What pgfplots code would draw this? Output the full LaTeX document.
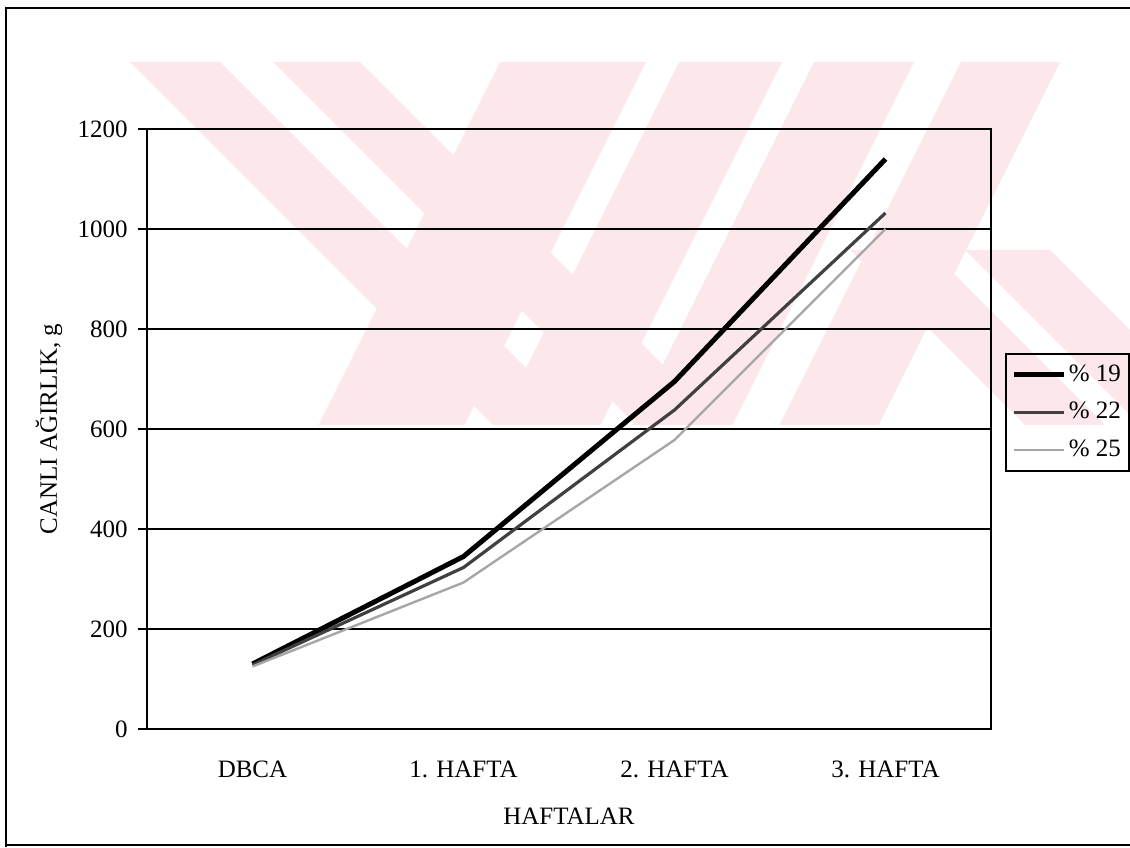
\documentclass[border=0pt]{standalone}
\usepackage{fontspec}
\setmainfont{Liberation Serif}
\usepackage{pgfplots}
\usepackage{pgfplotstable}
\pgfplotsset{compat=1.18}

\definecolor{wm}{RGB}{252,231,235}

% live weight (g) per week for the three protein levels
\pgfplotstableread{
x  p19   p22   p25
0  130   128   125
1  345   323   293
2  695   638   578
3  1140  1032  1000
}\weights

\begin{document}
\fontsize{12.5}{15}\selectfont
\begin{tikzpicture}
\useasboundingbox (0pt,0pt) rectangle (565pt,423.5pt);

% background emblem and page frame, in pixel units measured from the top-left corner
\begin{scope}[x=0.5pt, y=-0.5pt, shift={(0pt,423.5pt)}]
  \begin{scope}
    \clip (125,62) rectangle (1130,425);
    \foreach \a/\b in {130/220, 273/360}
      \fill[wm] (\a,62) -- (\b,62) -- (\b+363,425) -- (\a+363,425) -- cycle;
    \foreach \a/\b in {500/646, 679/782, 814/914, 961/1060}
      \fill[wm] (\a,62) -- (\b,62) -- (\b-181.5,425) -- (\a-181.5,425) -- cycle;
    \fill[wm] (850,250) -- (930,250) -- (1105,425) -- (1025,425) -- cycle;
    \fill[wm] (965,250) -- (1050,250) -- (1225,425) -- (1140,425) -- cycle;
  \end{scope}
  \draw[line width=1pt] (6,847) -- (6,8) -- (1130,8);
  \draw[line width=1pt] (6,845) -- (1130,845);
\end{scope}

\begin{axis}[
  at={(73.5pt,59pt)}, anchor=south west,
  scale only axis, width=422pt, height=300pt,
  xmin=-0.5, xmax=3.5, ymin=0, ymax=1200,
  axis line style={line width=1.3pt},
  /pgf/number format/.cd, 1000 sep={}, assume math mode=true, /pgfplots/.cd,
  xtick={0,1,2,3},
  xticklabels={DBCA, 1. HAFTA, 2. HAFTA, 3. HAFTA},
  xtick style={draw=none},
  minor xtick={-0.5,0.5,1.5,2.5,3.5},
  minor x tick style={black, line width=0.8pt},
  minor tick length=3.5pt,
  xtick pos=left, ytick pos=left,
  ytick={0,200,...,1200},
  y tick style={black, line width=0.8pt},
  major tick length=4.5pt,
  tick align=outside,
  ymajorgrids,
  grid style={black, line width=1pt},
  xticklabel style={anchor=center, yshift=-15.5pt},
  yticklabel style={anchor=east, inner sep=0pt, xshift=-5pt},
  xlabel={HAFTALAR},
  xlabel style={at={(axis description cs:0.5,0)}, anchor=center, yshift=-43.5pt},
  ylabel={CANLI AĞIRLIK, g},
  ylabel style={at={(axis description cs:0,0.5)}, anchor=center, yshift=49pt},
  legend style={at={(1.0166,0.6267)}, anchor=north west, draw=black, line width=0.8pt,
    fill=none, inner xsep=3pt, inner ysep=4.5pt, row sep=6.5pt,
    nodes={inner sep=1pt}, cells={anchor=west}},
  legend image code/.code={\draw[#1] (0pt,0pt) -- (25pt,0pt);},
]
\addplot[black, line width=2.5pt, line join=round] table[x=x, y=p19] {\weights};
\addlegendentry{\% 19}
\addplot[black!75, line width=1.6pt, line join=round] table[x=x, y=p22] {\weights};
\addlegendentry{\% 22}
\addplot[black!35, line width=1.2pt, line join=round] table[x=x, y=p25] {\weights};
\addlegendentry{\% 25}
\end{axis}
\end{tikzpicture}
\end{document}
